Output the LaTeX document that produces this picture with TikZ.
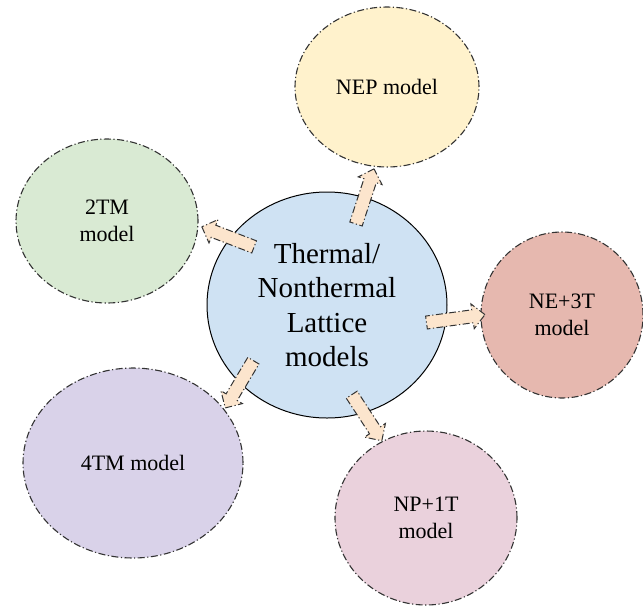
\documentclass[tikz,border=0pt]{standalone}
\usepackage{fontspec}
\setmainfont{Liberation Serif}
\usetikzlibrary{shapes.geometric,shapes.arrows}
\definecolor{cblue}{HTML}{CFE2F3}
\definecolor{cyellow}{HTML}{FFF2CC}
\definecolor{cgreen}{HTML}{D9EAD3}
\definecolor{cred}{HTML}{E6B8AF}
\definecolor{cpurple}{HTML}{D9D2E9}
\definecolor{cmagenta}{HTML}{EAD1DC}
\definecolor{corange}{HTML}{FCE5CD}
\definecolor{cline}{HTML}{333333}
\begin{document}
\begin{tikzpicture}[x=1pt,y=-1pt,
  dashdot/.style={dash pattern=on 7pt off 2.5pt on 1.2pt off 2.5pt},
  model/.style={ellipse, draw=cline, line width=1.1pt, dashdot, inner sep=0pt,
    align=center, font=\fontsize{22}{26.4}\selectfont},
  hub/.style={ellipse, draw=black, line width=1pt, fill=cblue, inner sep=0pt,
    align=center, font=\fontsize{29}{34.5}\selectfont},
  blockarrow/.style={single arrow, draw=cline, fill=corange, line width=1pt, dashdot,
    single arrow head extend=6pt, single arrow head indent=0pt,
    inner sep=0pt, sloped, allow upside down, midway}
]
\useasboundingbox (0,0) rectangle (643,606);

\node[hub, minimum width=240pt, minimum height=226pt] (hubn) at (327,305)
  {Thermal/\\Nonthermal\\Lattice\\models};

\node[model, fill=cyellow, minimum width=184pt, minimum height=160pt] (nep) at (387,87) {NEP model};
\node[model, fill=cgreen, minimum width=182pt, minimum height=164pt] (ttm) at (107,221) {2TM\\model};
\node[model, fill=cred, minimum width=162pt, minimum height=166pt] (ne3t) at (562,315) {NE+3T\\model};
\node[model, fill=cpurple, minimum width=220pt, minimum height=190pt] (ftm) at (133,463) {4TM model};
\node[model, fill=cmagenta, minimum width=182pt, minimum height=174pt] (np1t) at (426,518) {NP+1T\\model};

\coordinate (a1t) at (257,248); \coordinate (a1h) at (205,228);
\coordinate (a2t) at (355,227); \coordinate (a2h) at (373,172);
\coordinate (a3t) at (423,323); \coordinate (a3h) at (482,315);
\coordinate (a4t) at (255,358); \coordinate (a4h) at (227,405);
\coordinate (a5t) at (350,392); \coordinate (a5h) at (380,438);

\path (a1t) -- (a1h) node[blockarrow, minimum height=56pt] (arr1) {\rule{0pt}{12pt}};
\path (a2t) -- (a2h) node[blockarrow, minimum height=58pt] (arr2) {\rule{0pt}{12pt}};
\path (a3t) -- (a3h) node[blockarrow, minimum height=59pt] (arr3) {\rule{0pt}{12pt}};
\path (a4t) -- (a4h) node[blockarrow, minimum height=55pt] (arr4) {\rule{0pt}{12pt}};
\path (a5t) -- (a5h) node[blockarrow, minimum height=55pt] (arr5) {\rule{0pt}{12pt}};
\end{tikzpicture}
\end{document}
